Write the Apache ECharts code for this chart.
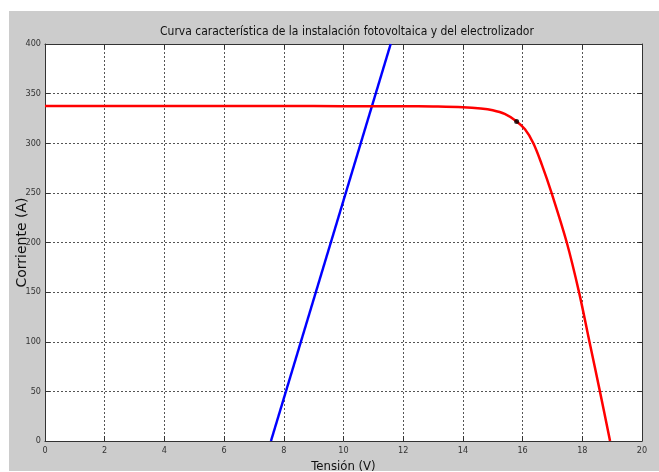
<!DOCTYPE html>
<html><head><meta charset="utf-8">
<script src="https://cdn.jsdelivr.net/npm/echarts@6/dist/echarts.min.js"></script>
<style>
html,body{margin:0;padding:0;background:#fff;}
#bg{position:absolute;left:9px;top:11px;width:650px;height:460px;background:#cccccc;}
#c{position:absolute;left:0;top:0;width:659px;height:472px;}
</style></head>
<body><div id="bg"></div><div id="c"></div>
<script>
const titleText = 'Curva característica de la instalación fotovoltaica y del electrolizador';
const xName = 'Tensión (V)';
const yName = 'Corriente (A)';
const xTicks = [0,2,4,6,8,10,12,14,16,18,20];
const yTicks = [0,50,100,150,200,250,300,350,400];
// PV I-V curve (V, A)
const pvV = [0,2,4,6,8,10,12,13,14,14.6,15.0,15.4,15.78,16.08,16.36,16.65,16.97,17.48,17.89,18.24,18.59,18.93];
const pvI = [337.5,337.5,337.5,337.5,337.5,337.4,337.3,337,336.3,335,333.2,329.5,322.4,314,300,278,250,200,150,100,50,0];
// Electrolyzer line (V, A)
const elV = [7.57,11.58];
const elI = [0,400];
// Operating point
const opV = [15.8];
const opI = [322];

const condensed = "'DejaVu Sans Condensed','Liberation Sans Narrow',sans-serif";
const chart = echarts.init(document.getElementById('c'));
const axisCol = '#333';
const baseX = {
  type:'value', min:xTicks[0], max:xTicks[xTicks.length-1], interval:xTicks[1]-xTicks[0],
  axisLine:{show:true,onZero:false,lineStyle:{color:axisCol,width:1}},
  axisTick:{show:true,inside:true,length:5,lineStyle:{color:axisCol}},
  splitLine:{show:false}
};
const baseY = {
  type:'value', min:yTicks[0], max:yTicks[yTicks.length-1], interval:yTicks[1]-yTicks[0],
  axisLine:{show:true,onZero:false,lineStyle:{color:axisCol,width:1}},
  axisTick:{show:true,inside:true,length:5,lineStyle:{color:axisCol}},
  splitLine:{show:false}
};
chart.setOption({
  animation:false,
  title:{text:titleText,left:155,top:21,textStyle:{fontFamily:condensed,fontSize:12,fontWeight:'normal',color:'#111'}},
  grid:{left:45,right:17,top:44,bottom:31,show:true,backgroundColor:'#fff',borderWidth:0,containLabel:false,outerBoundsMode:'none'},
  xAxis:[
    Object.assign({},baseX,{position:'bottom',name:xName,nameLocation:'middle',nameGap:19,nameMoveOverlap:false,
      nameTextStyle:{fontFamily:condensed,fontSize:13,color:'#111'},
      axisLabel:{fontFamily:condensed,fontSize:9,color:'#333',margin:5},
      splitLine:{show:true,lineStyle:{color:'#555',type:[2,2],width:1}}}),
    Object.assign({},baseX,{position:'top',axisLabel:{show:false}})
  ],
  yAxis:[
    Object.assign({},baseY,{position:'left',name:yName,nameLocation:'middle',nameGap:16,nameMoveOverlap:false,
      nameTextStyle:{fontFamily:"'DejaVu Sans',sans-serif",fontSize:14,color:'#111'},
      axisLabel:{fontFamily:condensed,fontSize:9,color:'#333',margin:4},
      splitLine:{show:true,lineStyle:{color:'#555',type:[2,2],width:1}}}),
    Object.assign({},baseY,{position:'right',axisLabel:{show:false}})
  ],
  series:[
    {type:'line',xAxisIndex:0,yAxisIndex:0,data:pvV.map((v,i)=>[v,pvI[i]]),smooth:0.35,showSymbol:false,
     lineStyle:{color:'#ff0000',width:2.5},z:3},
    {type:'line',xAxisIndex:0,yAxisIndex:0,data:elV.map((v,i)=>[v,elI[i]]),showSymbol:false,
     lineStyle:{color:'#0000ff',width:2.5},z:2},
    {type:'scatter',xAxisIndex:0,yAxisIndex:0,data:opV.map((v,i)=>[v,opI[i]]),symbolSize:5,
     itemStyle:{color:'#000'},z:5}
  ]
});
</script></body></html>
